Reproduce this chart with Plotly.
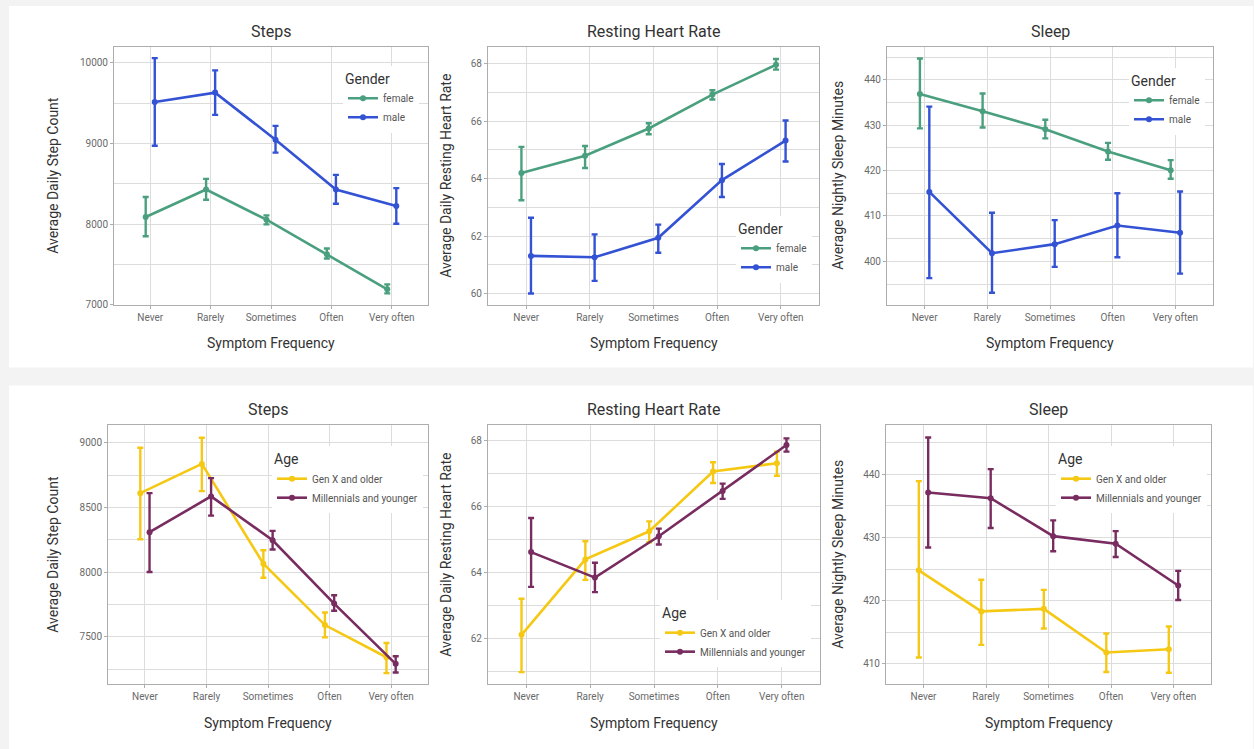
import plotly.graph_objects as go

W, H = 1254, 749

categories = ["Never", "Rarely", "Sometimes", "Often", "Very often"]

# Gender panels: mean and 95% interval bounds
steps_female = [8090, 8430, 8057, 7629, 7194]
steps_female_hi = [8337, 8562, 8110, 7699, 7255]
steps_female_lo = [7851, 8303, 7999, 7576, 7144]
steps_male = [9515, 9631, 9047, 8430, 8226]
steps_male_hi = [10058, 9906, 9219, 8612, 8448]
steps_male_lo = [8973, 9355, 8887, 8254, 8007]

rhr_female = [64.20, 64.80, 65.75, 66.93, 67.97]
rhr_female_hi = [65.11, 65.14, 65.93, 67.08, 68.17]
rhr_female_lo = [63.25, 64.37, 65.55, 66.76, 67.80]
rhr_male = [61.31, 61.26, 61.94, 63.95, 65.33]
rhr_male_hi = [62.64, 62.06, 62.40, 64.51, 66.03]
rhr_male_lo = [60.00, 60.44, 61.42, 63.36, 64.60]

sleep_female = [436.9, 433.1, 429.1, 424.2, 420.1]
sleep_female_hi = [444.7, 437.0, 431.2, 426.1, 422.3]
sleep_female_lo = [429.3, 429.5, 427.1, 422.4, 418.2]
sleep_male = [415.3, 401.8, 403.8, 407.9, 406.3]
sleep_male_hi = [434.1, 410.7, 409.1, 415.0, 415.4]
sleep_male_lo = [396.3, 393.1, 398.8, 400.9, 397.3]

# Age panels
steps_genx = [8610, 8836, 8064, 7590, 7341]
steps_genx_hi = [8961, 9038, 8169, 7687, 7451]
steps_genx_lo = [8254, 8626, 7956, 7495, 7218]
steps_mill = [8308, 8585, 8246, 7756, 7290]
steps_mill_hi = [8610, 8726, 8318, 7821, 7349]
steps_mill_lo = [8000, 8436, 8174, 7700, 7223]

rhr_genx = [62.12, 64.40, 65.25, 67.06, 67.31]
rhr_genx_hi = [63.21, 64.95, 65.55, 67.34, 67.66]
rhr_genx_lo = [60.99, 63.78, 64.92, 66.71, 66.93]
rhr_mill = [64.62, 63.85, 65.10, 66.47, 67.86]
rhr_mill_hi = [65.65, 64.30, 65.33, 66.69, 68.06]
rhr_mill_lo = [63.57, 63.41, 64.85, 66.23, 67.66]

sleep_genx = [424.8, 418.3, 418.7, 411.8, 412.3]
sleep_genx_hi = [438.9, 423.3, 421.7, 414.8, 415.9]
sleep_genx_lo = [411.0, 413.0, 415.6, 408.7, 408.6]
sleep_mill = [437.1, 436.2, 430.2, 429.0, 422.4]
sleep_mill_hi = [445.8, 440.8, 432.7, 431.0, 424.7]
sleep_mill_lo = [428.4, 431.5, 427.8, 426.9, 420.1]

GREEN = "#4aa07e"
BLUE = "#3352d4"
YELLOW = "#f5c814"
PURPLE = "#782c60"

FONT = "Roboto"
GRID = "#dcdcdc"
FRAME = "#adadad"

DODGE = 0.075

# panel boxes in pixels: (x0, x1, y0, y1)
panels = [
    dict(box=(114, 428, 47, 307), title="Steps", ytitle="Average Daily Step Count",
         yrange=[7000, 10200], dtick=1000, minor=500, ytx=53,
         series=[("female", steps_female, steps_female_hi, steps_female_lo, GREEN),
                 ("male", steps_male, steps_male_hi, steps_male_lo, BLUE)],
         legend=dict(title="Gender", x=343, y=66)),
    dict(box=(488, 819, 47, 307), title="Resting Heart Rate", ytitle="Average Daily Resting Heart Rate",
         yrange=[59.6, 68.6], dtick=2, minor=1, ytx=446,
         series=[("female", rhr_female, rhr_female_hi, rhr_female_lo, GREEN),
                 ("male", rhr_male, rhr_male_hi, rhr_male_lo, BLUE)],
         legend=dict(title="Gender", x=736, y=217)),
    dict(box=(887, 1213, 47, 307), title="Sleep", ytitle="Average Nightly Sleep Minutes",
         yrange=[390.4, 447.3], dtick=10, minor=5, ytx=838,
         series=[("female", sleep_female, sleep_female_hi, sleep_female_lo, GREEN),
                 ("male", sleep_male, sleep_male_hi, sleep_male_lo, BLUE)],
         legend=dict(title="Gender", x=1129, y=68)),
    dict(box=(108, 428, 428, 689), title="Steps", ytitle="Average Daily Step Count",
         yrange=[7131, 9136], dtick=500, minor=250, ytx=53,
         series=[("Gen X and older", steps_genx, steps_genx_hi, steps_genx_lo, YELLOW),
                 ("Millennials and younger", steps_mill, steps_mill_hi, steps_mill_lo, PURPLE)],
         legend=dict(title="Age", x=272, y=449)),
    dict(box=(488, 820, 428, 689), title="Resting Heart Rate", ytitle="Average Daily Resting Heart Rate",
         yrange=[60.62, 68.46], dtick=2, minor=1, ytx=446,
         series=[("Gen X and older", rhr_genx, rhr_genx_hi, rhr_genx_lo, YELLOW),
                 ("Millennials and younger", rhr_mill, rhr_mill_hi, rhr_mill_lo, PURPLE)],
         legend=dict(title="Age", x=660, y=604)),
    dict(box=(886, 1211, 428, 689), title="Sleep", ytitle="Average Nightly Sleep Minutes",
         yrange=[406.75, 447.76], dtick=10, minor=5, ytx=838,
         series=[("Gen X and older", sleep_genx, sleep_genx_hi, sleep_genx_lo, YELLOW),
                 ("Millennials and younger", sleep_mill, sleep_mill_hi, sleep_mill_lo, PURPLE)],
         legend=dict(title="Age", x=1056, y=449)),
]

fig = go.Figure()
layout = dict(
    width=W, height=H,
    margin=dict(l=0, r=0, t=0, b=0),
    paper_bgcolor="#f3f3f3",
    plot_bgcolor="white",
    font=dict(family=FONT, color="#333333"),
    shapes=[
        dict(type="rect", xref="paper", yref="paper", x0=9 / W, x1=1253 / W,
             y0=1 - 370 / H, y1=1 - 6 / H, fillcolor="white", line_width=0, layer="below"),
        dict(type="rect", xref="paper", yref="paper", x0=9 / W, x1=1253 / W,
             y0=-0.05, y1=1 - 388 / H, fillcolor="white", line_width=0, layer="below"),
    ],
    annotations=[],
    showlegend=True,
)

for i, p in enumerate(panels):
    n = i + 1
    sfx = "" if n == 1 else str(n)
    x0, x1, y0, y1 = p["box"]
    xa, ya = "x" + sfx, "y" + sfx
    leg = "legend" + sfx

    for j, (name, mean, hi, lo, color) in enumerate(p["series"]):
        off = -DODGE if j == 0 else DODGE
        xs = [k + off for k in range(len(categories))]
        fig.add_trace(go.Scatter(
            x=xs, y=mean, name=name, mode="lines+markers",
            line=dict(color=color, width=2.6),
            marker=dict(color=color, size=6),
            error_y=dict(type="data", symmetric=False,
                         array=[h - m for h, m in zip(hi, mean)],
                         arrayminus=[m - l for m, l in zip(mean, lo)],
                         color=color, thickness=2.4, width=3),
            xaxis=xa, yaxis=ya, legend=leg,
        ))

    layout["xaxis" + sfx] = dict(
        domain=[x0 / W, x1 / W], anchor=ya, range=[-0.6, 4.6],
        tickmode="array", tickvals=list(range(len(categories))), ticktext=categories,
        showgrid=True, gridcolor=GRID, gridwidth=1, zeroline=False,
        showline=True, linecolor=FRAME, linewidth=1, mirror=True,
        ticks="outside", ticklen=3, tickcolor=FRAME,
        tickfont=dict(size=10, color="#6a6a6a", family=FONT),
    )
    layout["yaxis" + sfx] = dict(
        domain=[1 - y1 / H, 1 - y0 / H], anchor=xa, range=p["yrange"],
        tickmode="linear", tick0=0, dtick=p["dtick"], tickformat="d",
        showgrid=True, gridcolor=GRID, gridwidth=1, zeroline=False,
        minor=dict(tickmode="linear", tick0=0, dtick=p["minor"], showgrid=True,
                   gridcolor=GRID, gridwidth=1),
        showline=True, linecolor=FRAME, linewidth=1, mirror=True,
        ticks="outside", ticklen=3, tickcolor=FRAME,
        tickfont=dict(size=10, color="#6a6a6a", family=FONT),
    )
    lg = p["legend"]
    layout[leg] = dict(
        x=lg["x"] / W, y=1 - lg["y"] / H, xanchor="left", yanchor="top",
        bgcolor="white", borderwidth=0,
        title=dict(text=lg["title"], font=dict(size=14, color="#333333", family=FONT)),
        font=dict(size=10, color="#555555", family=FONT),
        itemwidth=30, tracegroupgap=0,
    )

    cx = (x0 + x1) / 2
    title_y = 32 if y0 < 200 else 412
    xt_y = 345 if y0 < 200 else 728
    layout["annotations"] += [
        dict(text=p["title"], x=cx / W, y=1 - title_y / H, xref="paper", yref="paper",
             xanchor="center", yanchor="middle", showarrow=False,
             font=dict(size=16, color="#333333", family=FONT)),
        dict(text="Symptom Frequency", x=cx / W, y=1 - xt_y / H, xref="paper", yref="paper",
             xanchor="center", yanchor="middle", showarrow=False,
             font=dict(size=14, color="#333333", family=FONT)),
        dict(text=p["ytitle"], x=p["ytx"] / W, y=1 - ((y0 + y1) / 2) / H, xref="paper", yref="paper",
             xanchor="center", yanchor="middle", showarrow=False, textangle=-90,
             font=dict(size=14, color="#333333", family=FONT)),
    ]

fig.update_layout(**layout)
fig.write_html("out.html")
